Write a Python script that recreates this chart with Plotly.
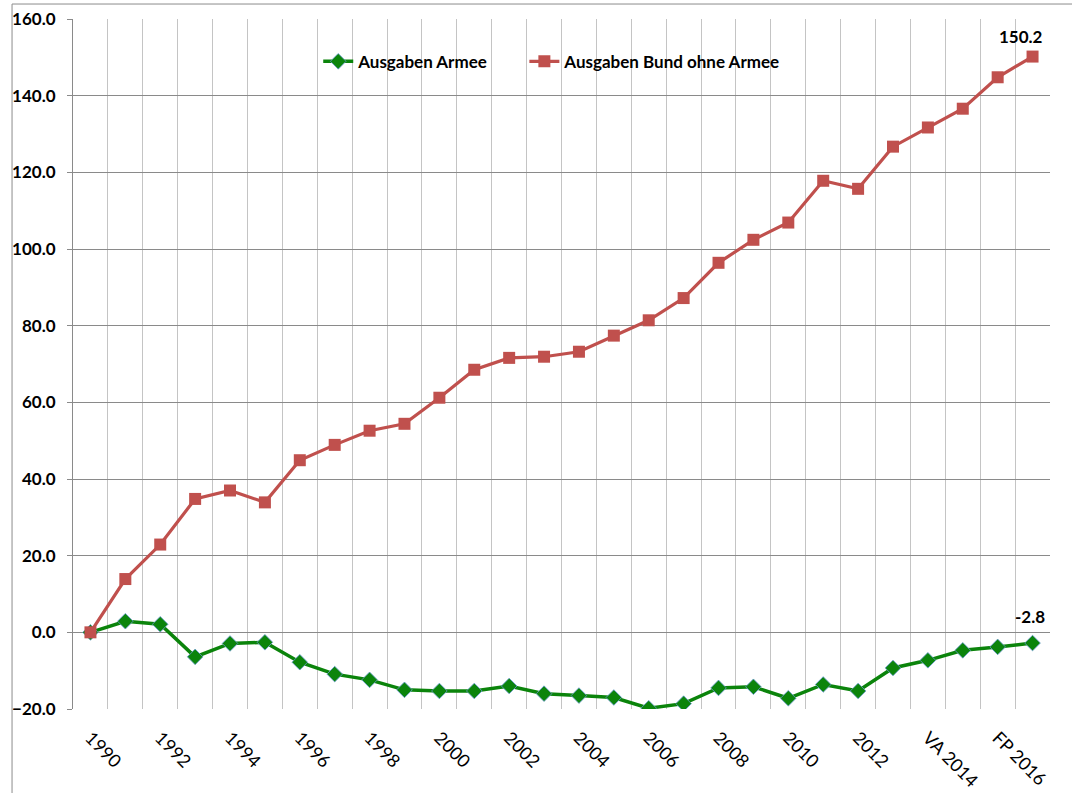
import plotly.graph_objects as go

categories = ["1990", "1991", "1992", "1993", "1994", "1995", "1996", "1997", "1998", "1999",
              "2000", "2001", "2002", "2003", "2004", "2005", "2006", "2007", "2008", "2009",
              "2010", "2011", "2012", "R 2013", "VA 2014", "FP 2015", "FP 2016", "FP 2017"]

armee = [0.0, 2.9, 2.1, -6.4, -2.9, -2.6, -7.8, -10.9, -12.4, -15.0,
         -15.3, -15.3, -14.0, -16.0, -16.5, -17.0, -19.8, -18.6, -14.5, -14.2,
         -17.2, -13.6, -15.3, -9.3, -7.3, -4.7, -3.8, -2.8]

bund = [0.0, 13.9, 22.9, 34.8, 37.0, 33.9, 44.9, 48.9, 52.6, 54.4,
        61.2, 68.5, 71.6, 71.9, 73.2, 77.4, 81.4, 87.2, 96.4, 102.4,
        106.9, 117.8, 115.7, 126.7, 131.7, 136.6, 144.8, 150.2]

series_names = ["Ausgaben Armee", "Ausgaben Bund ohne Armee"]
y_ticks = [-20, 0, 20, 40, 60, 80, 100, 120, 140, 160]

x_idx = list(range(len(categories)))
label_idx = x_idx[::2]
label_text = [categories[i] for i in label_idx]

FONT = "Lato"
GREEN = "#0b840b"
RED = "#c0504d"

fig = go.Figure()
fig.add_trace(go.Scatter(
    x=x_idx, y=armee, name=series_names[0], mode="lines+markers", legend="legend",
    line=dict(color=GREEN, width=3.5),
    marker=dict(symbol="diamond", size=12, color=GREEN, line=dict(color="#6a9bd1", width=0.8)),
))
fig.add_trace(go.Scatter(
    x=x_idx, y=bund, name=series_names[1], mode="lines+markers", legend="legend2",
    line=dict(color=RED, width=3.2),
    marker=dict(symbol="square", size=12, color=RED),
))

fig.add_annotation(x=x_idx[-1], y=bund[-1], text=f"<b>{bund[-1]:.1f}</b>", showarrow=False,
                   yshift=20, xshift=-12, font=dict(family=FONT, size=17, color="#000000"))
fig.add_annotation(x=x_idx[-1], y=armee[-1], text=f"<b>{armee[-1]:.1f}</b>", showarrow=False,
                   yshift=27, xshift=-3, font=dict(family=FONT, size=17, color="#000000"))

# outer chart border (top and left edges visible in the frame)
fig.add_shape(type="line", xref="paper", yref="paper",
              x0=-0.0624, x1=1.1, y0=1.0217, y1=1.0217,
              line=dict(color="#8c8c8c", width=1), layer="above")
fig.add_shape(type="line", xref="paper", yref="paper",
              x0=-0.0624, x1=-0.0624, y0=-0.2, y1=1.0217,
              line=dict(color="#8c8c8c", width=1), layer="above")
# white legend box behind the two legend entries
fig.add_shape(type="rect", xref="paper", yref="paper",
              x0=0.232, x1=0.744, y0=0.912, y1=0.959,
              line=dict(width=0), fillcolor="white", layer="between")

legend_common = dict(orientation="h", yanchor="middle", y=0.938, xanchor="left",
                     bgcolor="rgba(255,255,255,0)",
                     font=dict(family=FONT, size=17, color="#000000", weight="bold"),
                     itemwidth=30)

fig.update_layout(
    width=1072, height=793,
    margin=dict(l=73, r=22, t=19, b=84, autoexpand=False),
    paper_bgcolor="white", plot_bgcolor="white",
    font=dict(family=FONT, color="#000000"),
    showlegend=True,
    legend=dict(x=0.251, **legend_common),
    legend2=dict(x=0.462, **legend_common),
)

fig.update_xaxes(
    range=[-0.5, len(categories) - 0.5], automargin=False,
    tickmode="array", tickvals=label_idx, ticktext=label_text,
    tickangle=45, tickfont=dict(family=FONT, size=18, color="#000000"),
    showgrid=False, zeroline=False, showline=False,
    ticks="", ticklabelstandoff=14,
    minor=dict(tick0=0.5, dtick=1, showgrid=True, gridcolor="#c4c4c4", gridwidth=1, ticks=""),
)
fig.update_yaxes(
    range=[-20, 160], automargin=False, tickmode="array", tickvals=y_ticks, tickformat=".1f",
    tickfont=dict(family=FONT, size=17, color="#000000", weight="bold"),
    showgrid=True, gridcolor="#8a8a8a", gridwidth=1,
    zeroline=True, zerolinecolor="#8a8a8a", zerolinewidth=1,
    showline=True, linecolor="#8a8a8a", linewidth=1,
    ticks="outside", ticklen=5, tickcolor="#8a8a8a", ticklabelstandoff=8,
)

fig.write_html("out.html", config={"displayModeBar": False},
               post_script="document.body.style.margin='0';")
